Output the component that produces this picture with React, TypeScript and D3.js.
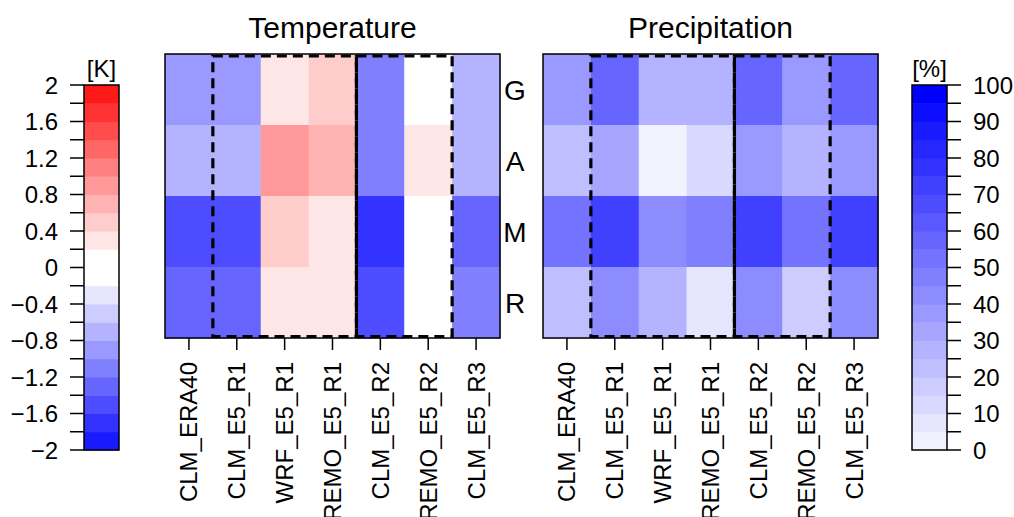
import React from 'react';
import * as d3 from 'd3';

// models (columns) and seasons (rows)
const models = ['CLM_ERA40', 'CLM_E5_R1', 'WRF_E5_R1', 'REMO_E5_R1', 'CLM_E5_R2', 'REMO_E5_R2', 'CLM_E5_R3'];
const seasons = ['G', 'A', 'M', 'R'];

// temperature bias [K], one array per season row
const tempG = [-0.9, -0.9, 0.3, 0.5, -1.1, 0.0, -0.7];
const tempA = [-0.7, -0.7, 0.9, 0.7, -1.1, 0.3, -0.7];
const tempM = [-1.5, -1.5, 0.5, 0.3, -1.7, 0.0, -1.3];
const tempR = [-1.3, -1.3, 0.3, 0.3, -1.5, 0.0, -1.1];

// precipitation [%], one array per season row
const precG = [37.5, 57.5, 27.5, 27.5, 57.5, 37.5, 57.5];
const precA = [22.5, 32.5, 2.5, 12.5, 37.5, 27.5, 37.5];
const precM = [52.5, 72.5, 42.5, 47.5, 72.5, 52.5, 72.5];
const precR = [22.5, 42.5, 27.5, 7.5, 42.5, 17.5, 42.5];

// colour levels, bottom to top
const tempColors = [
  '#1a1aff', '#3333ff', '#4d4dff', '#6666ff', '#8080ff', '#9999ff', '#b3b3ff', '#ccccff', '#e6e6ff', '#ffffff',
  '#ffffff', '#ffe6e6', '#ffcccc', '#ffb3b3', '#ff9999', '#ff8080', '#ff6666', '#ff4d4d', '#ff3333', '#ff1a1a',
];
const precColors = [
  '#f2f2ff', '#e6e6ff', '#d9d9ff', '#ccccff', '#bfbfff', '#b3b3ff', '#a6a6ff', '#9999ff', '#8c8cff', '#8080ff',
  '#7373ff', '#6666ff', '#5959ff', '#4d4dff', '#4040ff', '#3333ff', '#2626ff', '#1a1aff', '#0d0dff', '#0000ff',
];

const tempTicks = [2, 1.6, 1.2, 0.8, 0.4, 0, -0.4, -0.8, -1.2, -1.6, -2];
const precTicks = [100, 90, 80, 70, 60, 50, 40, 30, 20, 10, 0];

// groups of runs sharing a driving model, drawn as dashed boxes
const boxes = [
  ['CLM_E5_R1', 'REMO_E5_R1'],
  ['CLM_E5_R2', 'REMO_E5_R2'],
];

const font = 'Liberation Sans, Arial, Helvetica, sans-serif';
const top = 54;
const bottom = 338;
const pw = 335;

function Panel({ x0, title, rows, color, showRows }) {
  const x = d3.scaleBand().domain(models).range([x0, x0 + pw]);
  const y = d3.scaleBand().domain(seasons).range([top, bottom]);
  const bw = x.bandwidth();

  return (
    <g>
      <text x={x0 + pw / 2} y={38} textAnchor="middle" fontSize={30}>{title}</text>
      {rows.map((vals, r) =>
        vals.map((v, c) => (
          <rect
            key={`${r}-${c}`}
            x={x(models[c])}
            y={y(seasons[r])}
            width={bw + 0.5}
            height={y.bandwidth() + 0.5}
            fill={color(v)}
          />
        ))
      )}
      {boxes.map(([a, b], i) => (
        <rect
          key={i}
          x={x(a)}
          y={top + 2}
          width={x(b) + bw - x(a)}
          height={bottom - top - 3.5}
          fill="none"
          stroke="#000"
          strokeWidth={3.2}
          strokeDasharray="10,6"
        />
      ))}
      <rect x={x0} y={top} width={pw} height={bottom - top} fill="none" stroke="#000" strokeWidth={1.5} />
      {models.map(m => (
        <g key={m} transform={`translate(${x(m) + bw / 2},0)`}>
          <line y1={bottom} y2={bottom + 12} stroke="#000" strokeWidth={1.5} />
          <text transform={`translate(8.5,362) rotate(-90)`} textAnchor="end" fontSize={24}>{m}</text>
        </g>
      ))}
      {showRows &&
        seasons.map(s => (
          <text key={s} x={515} y={y(s) + y.bandwidth() / 2} dy="0.36em" textAnchor="middle" fontSize={28}>
            {s}
          </text>
        ))}
    </g>
  );
}

function ColorBar({ x0, domain, colors, ticks, unit, side }) {
  const cy = d3.scaleLinear().domain(domain).range([450, 85]);
  const n = colors.length;
  const bin = (domain[1] - domain[0]) / n;
  const minor = d3.range(n + 1).map(i => domain[0] + i * bin);
  const fmt = v => (v < 0 ? '\u2212' + String(-v) : String(v));

  return (
    <g>
      <text x={x0 + 17.5} y={77} textAnchor="middle" fontSize={24}>{unit}</text>
      {colors.map((c, i) => (
        <rect key={i} x={x0} y={cy(domain[0] + (i + 1) * bin)} width={35} height={cy(domain[0]) - cy(domain[0] + bin) + 0.5} fill={c} />
      ))}
      <rect x={x0} y={85} width={35} height={365} fill="none" stroke="#000" strokeWidth={1.5} />
      {minor.map((v, i) => (
        <line
          key={i}
          x1={side === 'left' ? x0 - 14 : x0 + 35}
          x2={side === 'left' ? x0 : x0 + 49}
          y1={cy(v)}
          y2={cy(v)}
          stroke="#000"
          strokeWidth={1.5}
        />
      ))}
      {ticks.map(t => (
        <text
          key={t}
          x={side === 'left' ? x0 - 26 : x0 + 61}
          y={cy(t)}
          dy="0.36em"
          textAnchor={side === 'left' ? 'end' : 'start'}
          fontSize={24}
        >
          {fmt(t)}
        </text>
      ))}
    </g>
  );
}

export default function App() {
  const tempColor = d3.scaleQuantize().domain([-2, 2]).range(tempColors);
  const precColor = d3.scaleQuantize().domain([0, 100]).range(precColors);

  return (
    <svg
      width={1014}
      height={517}
      style={{ position: 'absolute', left: 0, top: 0, background: '#fff' }}
      fontFamily={font}
    >
      <rect width={1014} height={517} fill="#fff" />
      <ColorBar x0={84} domain={[-2, 2]} colors={tempColors} ticks={tempTicks} unit="[K]" side="left" />
      <Panel x0={165} title="Temperature" rows={[tempG, tempA, tempM, tempR]} color={tempColor} showRows />
      <Panel x0={543} title="Precipitation" rows={[precG, precA, precM, precR]} color={precColor} showRows={false} />
      <ColorBar x0={912} domain={[0, 100]} colors={precColors} ticks={precTicks} unit="[%]" side="right" />
    </svg>
  );
}
